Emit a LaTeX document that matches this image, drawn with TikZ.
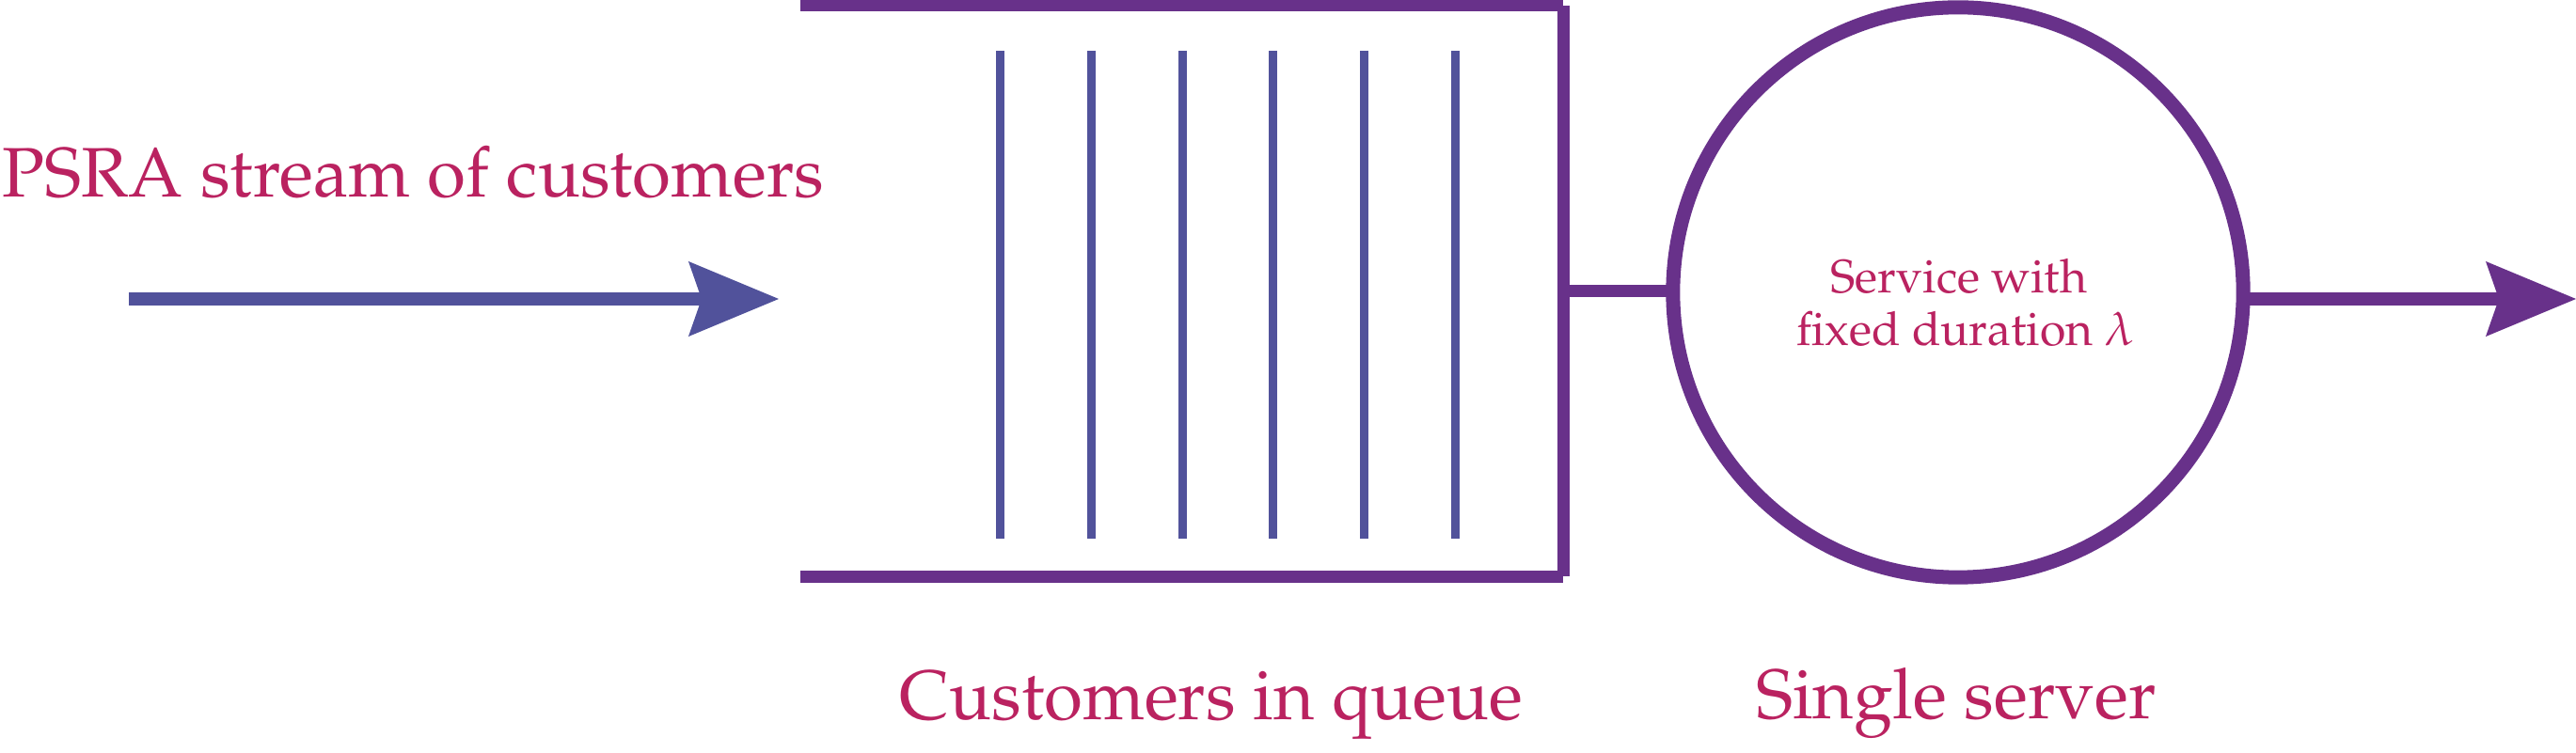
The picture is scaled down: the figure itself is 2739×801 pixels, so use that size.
\documentclass[tikz,border=0pt]{standalone}
\usepackage[T1]{fontenc}
\usepackage{mathpazo}
\usetikzlibrary{arrows.meta}
\definecolor{qpurple}{RGB}{104,49,138}
\definecolor{qblue}{RGB}{81,82,155}
\definecolor{qtext}{RGB}{186,34,96}
\tikzset{
  bigtext/.style={text=qtext, inner sep=0pt, font=\fontsize{21.2pt}{25pt}\selectfont},
  smalltext/.style={text=qtext, inner sep=0pt, font=\fontsize{14.2pt}{16pt}\selectfont},
  wall/.style={draw=qpurple, line width=0.13cm},
  bar/.style={draw=qblue, line width=0.09cm},
  inarrow/.style={draw=qblue, line width=0.14cm, -{Stealth[length=0.96cm, width=0.80cm, inset=0.14cm, line width=0pt, fill=qblue]}},
  outarrow/.style={draw=qpurple, line width=0.14cm, -{Stealth[length=0.96cm, width=0.80cm, inset=0.14cm, line width=0pt, fill=qpurple]}},
  serverbox/.style={circle, draw=qpurple, line width=0.15cm, minimum size=6.06cm, inner sep=0pt, outer sep=0pt}
}
\begin{document}
\begin{tikzpicture}[x=0.01cm, y=-0.01cm]
\useasboundingbox (0,0) rectangle (2739,801);
% input arrow
\coordinate (inS) at (137,318);
\coordinate (inE) at (828,318);
\draw[inarrow] (inS) -- (inE);
% queue
\coordinate (qTL) at (851,6);
\coordinate (qTR) at (1662,6);
\coordinate (qBL) at (851,613.5);
\coordinate (qBR) at (1662,613.5);
\coordinate (qR) at (1662,310);
\draw[wall] (qTL) -- (qTR);
\draw[wall] (qBL) -- (qBR);
\draw[wall] (qTR) -- (qBR);
\foreach \x in {1063.5,1160.3,1257.1,1353.9,1450.7,1547.5}
  \draw[bar] (\x,54) -- (\x,573);
% server
\node[serverbox] (srv) at (2082,311) {};
\draw[wall] (qR) -- (srv.west |- qR);
\coordinate (outE) at (2739,318);
\coordinate (outS) at (2384,318);
\draw[outarrow] (outS) -- (outE);
% texts
\node[bigtext, anchor=base west] (ttl) at (2,210) {PSRA stream of customers};
\node[bigtext, anchor=base] (lq) at (1288,766) {Customers in queue};
\node[bigtext, anchor=base] (ls) at (2080,765) {Single server};
\node[smalltext, anchor=base] (s1) at (2083,312) {Service with};
\node[smalltext, anchor=base] (s2) at (2090,368) {fixed duration $\lambda$};
\end{tikzpicture}
\end{document}
